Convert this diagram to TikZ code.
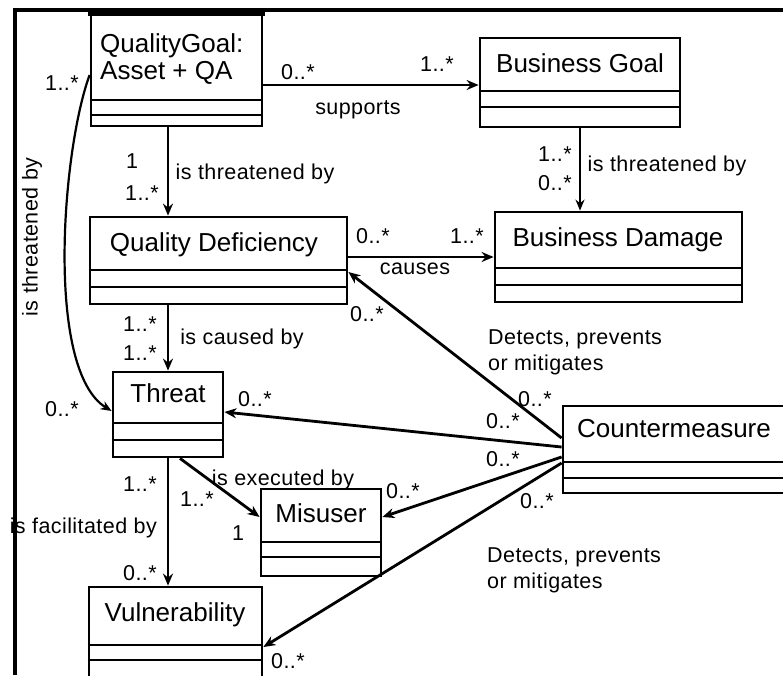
\documentclass[tikz,border=0pt]{standalone}
\usepackage{fontspec}
\setmainfont{Liberation Sans}
\usetikzlibrary{arrows.meta}
\begin{document}
\begin{tikzpicture}[x=1pt,y=-1pt,
  box/.style={draw, line width=2.8pt, inner sep=0pt},
  sepline/.style={line width=2.8pt},
  thinsep/.style={line width=1.6pt},
  arr/.style={line width=2.8pt, -{Stealth[length=12pt,width=10pt]}},
  thinarr/.style={line width=1.8pt, -{Stealth[length=11pt,width=9pt]}},
  title/.style={font=\fontsize{26}{29}\selectfont, inner sep=0pt},
  lbl/.style={font=\fontsize{21.5}{26}\selectfont\addfontfeature{LetterSpace=2}, inner sep=0pt},
  frame/.style={line width=4pt},
]
\useasboundingbox (0,0) rectangle (783,675);
\fill[white] (0,0) rectangle (783,675);

% frame
\draw[frame] (13,10) -- (783,10);
\draw[frame] (15,8) -- (15,675);

% boxes
\node[box, minimum width=171pt, minimum height=114pt] (qg) at (176.5,69) {};
\node[box, minimum width=200pt, minimum height=89pt] (bg) at (580,82.5) {};
\node[box, minimum width=247pt, minimum height=90pt] (bd) at (618.5,257) {};
\node[box, minimum width=257pt, minimum height=87pt] (qd) at (218.5,260.5) {};
\node[box, minimum width=110pt, minimum height=85pt] (threat) at (168,414.5) {};
\node[box, minimum width=120pt, minimum height=87pt] (mis) at (321,532.5) {};
\node[box, minimum width=173pt, minimum height=113pt] (vul) at (175.5,643.5) {};
\node[box, minimum width=257pt, minimum height=87pt] (cm) at (691.5,449.5) {};

% thick top of QualityGoal
\draw[line width=5pt] ([yshift=-2.5pt,xshift=-1.4pt]qg.north west) -- ([yshift=-2.5pt,xshift=1.4pt]qg.north east);

% compartments
\foreach \n/\a/\b in {qg/100/115, bg/91/107, bd/268/285, qd/270/287, mis/542/557, cm/462/478}{
  \draw[sepline] (\n.west |- 0,\a) -- (\n.east |- 0,\a);
  \draw[sepline] (\n.west |- 0,\b) -- (\n.east |- 0,\b);
}
\foreach \n/\a/\b in {threat/423/440, vul/645/660}{
  \draw[thinsep] (\n.west |- 0,\a) -- (\n.east |- 0,\a);
  \draw[thinsep] (\n.west |- 0,\b) -- (\n.east |- 0,\b);
}

% titles
\node[title, anchor=base west] (qgt1) at (100,52) {QualityGoal:};
\node[title, anchor=base west] (qgt2) at (100,79) {Asset + QA};
\node[title, anchor=base] (bgt) at (580,72) {Business Goal};
\node[title, anchor=base] (bdt) at (618,246) {Business Damage};
\node[title, anchor=base] (qdt) at (214,251) {Quality Deficiency};
\node[title, anchor=base] (tht) at (168,402) {Threat};
\node[title, anchor=base] (mist) at (321,522) {Misuser};
\node[title, anchor=base] (vult) at (175,621) {Vulnerability};
\node[title, anchor=base west] (cmt) at (577,437) {Countermeasure};

% connectors
\draw[arr] (qg.east |- 0,85) -- (bg.west |- 0,85);
\draw[arr] (qg.south -| 168,0) -- (qd.north -| 168,0);
\draw[thinarr] (bg.south) -- (bd.north -| bg.south);
\draw[arr] (qd.east |- 0,257) -- (bd.west |- 0,257);
\draw[arr] (qd.south -| threat.north) -- (threat.north);
\draw[line width=2.2pt, -{Stealth[length=11pt,width=9pt]}] (qg.west |- 0,75) .. controls (62,150) and (45,370) .. (threat.west |- 0,411);
\draw[arr] (cm.west |- 0,438) -- (qd.east |- 0,272);
\draw[arr] (cm.west |- 0,447) -- (threat.east |- 0,412);
\draw[arr] (cm.west |- 0,457) -- (mis.east |- 0,517);
\draw[arr] (cm.west |- 0,463) -- (vul.east |- 0,647);
\draw[arr] (threat.south -| 180,0) -- (mis.west |- 0,517);
\draw[arr] (threat.south) -- (vul.north -| threat.south);

% labels
\node[lbl, anchor=base] at (298,79) {0..*};
\node[lbl, anchor=base] at (437,71) {1..*};
\node[lbl, anchor=base] at (358,114) {supports};
\node[lbl, anchor=base] at (132,168) {1};
\node[lbl, anchor=base] at (142,200) {1..*};
\node[lbl, anchor=base] at (255,179) {is threatened by};
\node[lbl, anchor=base] at (555,161) {1..*};
\node[lbl, anchor=base] at (555,190) {0..*};
\node[lbl, anchor=base] at (667,171) {is threatened by};
\node[lbl, anchor=base] at (373,243) {0..*};
\node[lbl, anchor=base] at (467,243) {1..*};
\node[lbl, anchor=base] at (415,274) {causes};
\node[lbl, anchor=base] at (140,331) {1..*};
\node[lbl, anchor=base] at (140,360) {1..*};
\node[lbl, anchor=base] at (242,344) {is caused by};
\node[lbl, anchor=base] at (62,90) {1..*};
\node[lbl, anchor=base] at (62,416) {0..*};
\node[lbl, rotate=90] at (32,237) {is threatened by};
\node[lbl, anchor=base] at (367,321) {0..*};
\node[lbl, anchor=base] at (535,406) {0..*};
\node[lbl, anchor=north west, align=left] at (488,329) {Detects, prevents\\or mitigates};
\node[lbl, anchor=base] at (255,406) {0..*};
\node[lbl, anchor=base] at (503,428) {0..*};
\node[lbl, anchor=base] at (503,466) {0..*};
\node[lbl, anchor=base] at (403,498) {0..*};
\node[lbl, anchor=base] at (537,508) {0..*};
\node[lbl, anchor=base] at (288,668) {0..*};
\node[lbl, anchor=north west, align=left] at (487,547) {Detects, prevents\\or mitigates};
\node[lbl, anchor=base] at (283,485) {is executed by};
\node[lbl, anchor=base] at (197,506) {1..*};
\node[lbl, anchor=base] at (238,540) {1};
\node[lbl, anchor=base] at (140,491) {1..*};
\node[lbl, anchor=base east] at (157,533) {is facilitated by};
\node[lbl, anchor=base] at (140,580) {0..*};
\end{tikzpicture}
\end{document}
